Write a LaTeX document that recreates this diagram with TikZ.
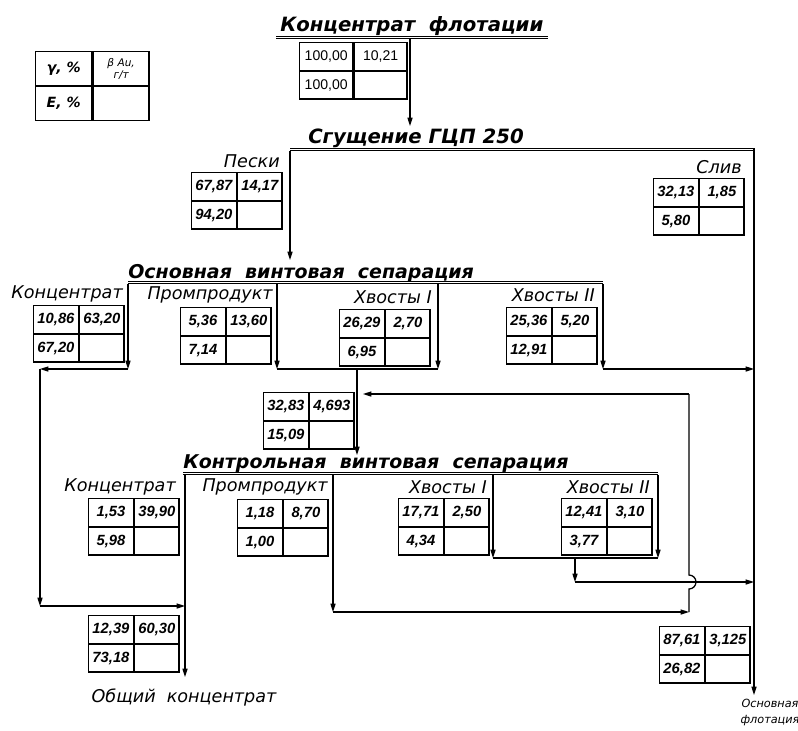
\documentclass[tikz,border=0pt]{standalone}
\usepackage{fontspec}
\setmainfont{DejaVu Sans}
\newfontfamily\numfont{Liberation Sans}
\usetikzlibrary{arrows.meta}

% 2x2 table: style, name, top-left x, y, gamma, beta, epsilon
\newcommand{\dtab}[7][cell]{%
  \node[#1] (#2a) at (#3,#4) {#5};
  \node[#1] (#2b) at (#2a.north east) {#6};
  \node[#1] (#2c) at (#2a.south west) {#7};
  \node[#1] (#2d) at (#2a.south east) {};
}

\begin{document}
\begin{tikzpicture}[x=0.025cm, y=-0.025cm,
  every node/.style={inner sep=0pt},
  cell/.style={draw, line width=1pt, anchor=north west, minimum width=1.1125cm,
    minimum height=0.6875cm, font=\numfont\fontsize{10.5}{12}\selectfont\bfseries\itshape},
  topcell/.style={cell, minimum width=1.325cm, font=\numfont\fontsize{10}{12}\selectfont},
  legcell/.style={cell, minimum width=1.4cm, minimum height=0.84cm,
    font=\fontsize{10}{12}\selectfont\itshape},
  ttl/.style={anchor=base west, font=\fontsize{14}{16}\selectfont\bfseries\itshape},
  lbl/.style={anchor=east, font=\fontsize{12.5}{14}\selectfont\itshape},
  dbl/.style={double, double distance=1.2pt, line width=0.7pt},
  flow/.style={line width=0.9pt},
  arr/.style={flow, -{Triangle[length=6pt, width=3.6pt]}}]
  \useasboundingbox (0,0) rectangle (798,731);

  % legend
  \dtab[legcell]{leg}{35}{51}{\textbf{γ, \%}}{%
    \parbox{1.2cm}{\centering\fontsize{7.5}{8.5}\selectfont β Au,\\ г/т}}{\textbf{E, \%}}

  % feed
  \node[ttl] (feed) at (280,31) {Концентрат\ \ флотации};
  \coordinate (feedL) at (276,37.5);
  \coordinate (feedR) at (548,37.5);
  \draw[dbl] (feedL) -- (feedR);
  \dtab[topcell]{feedt}{299}{42}{100,00}{10,21}{100,00}
  \coordinate (feedA) at (410,39);
  \coordinate (thkIn) at (410,126);
  \draw[arr] (feedA) -- (thkIn);

  % thickening
  \node[ttl] (thk) at (308,143) {Сгущение ГЦП 250};
  \coordinate (thkL) at (290,149.5);
  \coordinate (thkR) at (754,149.5);
  \draw[dbl] (thkL) -- (thkR);
  \node[lbl] (sand) at (280,161) {Пески};
  \dtab{sandt}{191}{172}{67,87}{14,17}{94,20}
  \node[lbl] (over) at (742,167) {Слив};
  \dtab{overt}{653}{178}{32,13}{1,85}{5,80}
  \coordinate (sandA) at (290,151);
  \coordinate (sepIn) at (290,260);
  \draw[arr] (sandA) -- (sepIn);
  \coordinate (overA) at (754,148);
  \coordinate (flotIn) at (754,695);
  \draw[arr] (overA) -- (flotIn);
  \node[anchor=north, align=center, font=\fontsize{8}{11}\selectfont\itshape]
    (flot) at (770,699) {Основная\\флотация};

  % rougher spiral
  \node[ttl, font=\fontsize{13.5}{16}\selectfont\bfseries\itshape] (sep) at (128,278)
    {Основная\ \ винтовая\ \ сепарация};
  \coordinate (sepL) at (128,282.5);
  \coordinate (sepR) at (603,282.5);
  \draw[dbl] (sepL) -- (sepR);
  \node[lbl] (conc1) at (123,294) {Концентрат};
  \dtab{conc1t}{33}{305}{10,86}{63,20}{67,20}
  \node[lbl] (mid1) at (273,295) {Промпродукт};
  \dtab{mid1t}{180}{307}{5,36}{13,60}{7,14}
  \node[lbl] (tailA1) at (432,297) {Хвосты I};
  \dtab{tailA1t}{339}{309}{26,29}{2,70}{6,95}
  \node[lbl] (tailB1) at (595,295) {Хвосты II};
  \dtab{tailB1t}{506}{307}{25,36}{5,20}{12,91}

  \coordinate (c1a) at (128,284);
  \coordinate (c1b) at (128,369);
  \coordinate (c1c) at (40,369);
  \coordinate (c1d) at (40,606);
  \coordinate (c1e) at (185,606);
  \draw[arr] (c1a) -- (c1b);
  \draw[arr] (c1b) -- (c1c);
  \draw[arr] (c1c) -- (c1d);
  \draw[arr] (c1d) -- (c1e);

  \coordinate (m1a) at (277,284);
  \coordinate (m1b) at (277,369);
  \coordinate (ta1a) at (438,284);
  \coordinate (ta1b) at (438,369);
  \draw[arr] (m1a) -- (m1b);
  \draw[arr] (ta1a) -- (ta1b);
  \draw[flow] (m1b) -- (ta1b);
  \dtab{mixt}{263}{392}{32,83}{4,693}{15,09}
  \coordinate (mixA) at (357,369);
  \coordinate (scvIn) at (357,455);
  \draw[arr] (mixA) -- (scvIn);

  \coordinate (tb1a) at (603,284);
  \coordinate (tb1b) at (603,369);
  \coordinate (tb1c) at (754,369);
  \draw[arr] (tb1a) -- (tb1b);
  \draw[arr] (tb1b) -- (tb1c);

  % scavenger spiral
  \node[ttl, font=\fontsize{13.5}{16}\selectfont\bfseries\itshape] (scv) at (183,468)
    {Контрольная\ \ винтовая\ \ сепарация};
  \coordinate (scvL) at (183,473.5);
  \coordinate (scvR) at (658,473.5);
  \draw[dbl] (scvL) -- (scvR);
  \node[lbl] (conc2) at (176,487) {Концентрат};
  \dtab{conc2t}{88}{498}{1,53}{39,90}{5,98}
  \node[lbl] (mid2) at (328,487) {Промпродукт};
  \dtab{mid2t}{237}{499}{1,18}{8,70}{1,00}
  \node[lbl] (tailA2) at (487,487) {Хвосты I};
  \dtab{tailA2t}{398}{498}{17,71}{2,50}{4,34}
  \node[lbl] (tailB2) at (650,487) {Хвосты II};
  \dtab{tailB2t}{561}{498}{12,41}{3,10}{3,77}

  \coordinate (c2a) at (185,475);
  \coordinate (totOut) at (185,677);
  \draw[arr] (c2a) -- (totOut);
  \dtab{tott}{88}{615}{12,39}{60,30}{73,18}
  \node[anchor=center, font=\fontsize{12.5}{14}\selectfont\itshape] (tot) at (184,697)
    {Общий\ \ концентрат};

  \coordinate (m2a) at (333,475);
  \coordinate (m2b) at (333,612);
  \coordinate (m2c) at (689,612);
  \coordinate (m2d) at (689,394);
  \coordinate (m2e) at (363,394);
  \draw[arr] (m2a) -- (m2b);
  \draw[arr] (m2b) -- (m2c);
  \draw[flow] (m2c) -- (689,589) arc[start angle=90, end angle=-90, radius=7] -- (m2d);
  \draw[arr] (m2d) -- (m2e);

  \coordinate (ta2a) at (493,475);
  \coordinate (ta2b) at (493,558);
  \coordinate (tb2a) at (658,475);
  \coordinate (tb2b) at (658,558);
  \draw[arr] (ta2a) -- (ta2b);
  \draw[arr] (tb2a) -- (tb2b);
  \draw[flow] (ta2b) -- (tb2b);
  \coordinate (t2a) at (575,558);
  \coordinate (t2b) at (575,582);
  \coordinate (t2c) at (754,582);
  \draw[arr] (t2a) -- (t2b);
  \draw[arr] (t2b) -- (t2c);

  % final tailings
  \dtab{fint}{659}{626}{87,61}{3,125}{26,82}
\end{tikzpicture}
\end{document}
